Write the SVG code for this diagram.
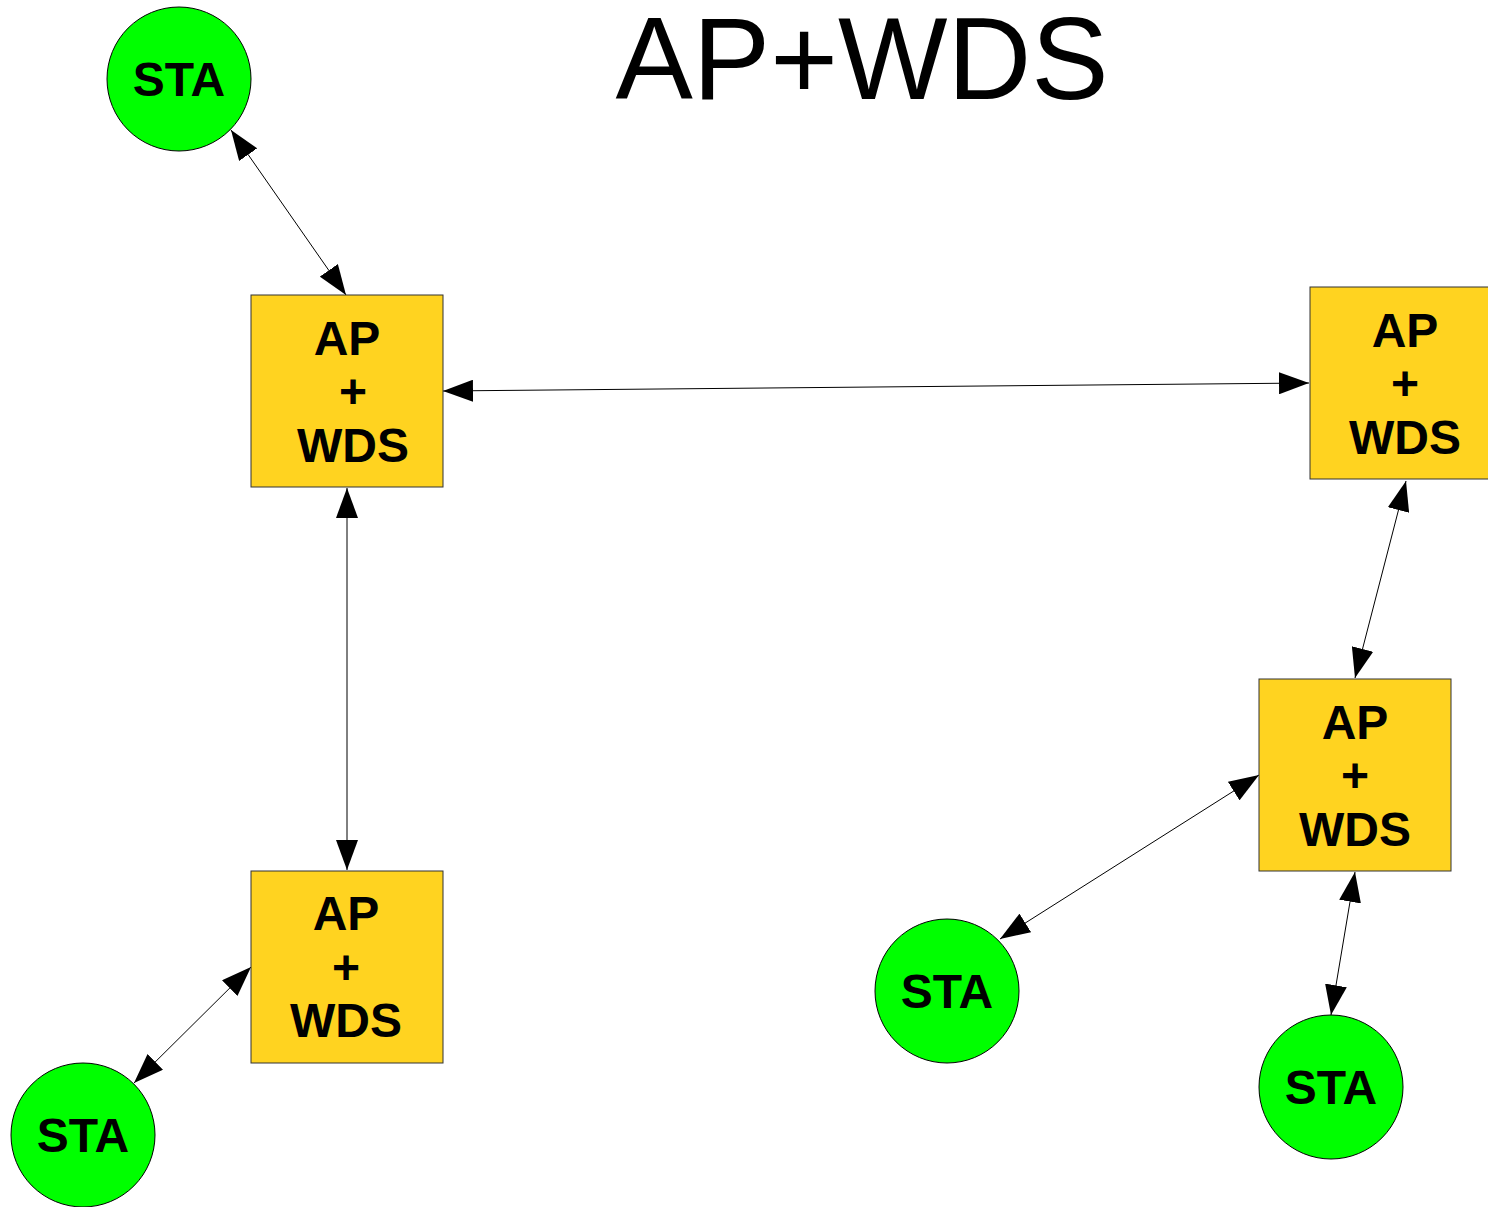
<svg xmlns="http://www.w3.org/2000/svg" width="1488" height="1207" viewBox="0 0 1488 1207">
  <style>
    .ap { fill: #ffd320; stroke: #333333; stroke-width: 1; }
    .sta { fill: #00ff00; stroke: #000000; stroke-width: 1; }
    .lbl { font-family: "Liberation Sans", Arial, sans-serif; font-weight: bold; font-size: 48px; fill: #000000; text-anchor: middle; }
    .title { font-family: "Liberation Sans", Arial, sans-serif; font-size: 116px; fill: #000000; text-anchor: middle; }
    .link { stroke: #000000; stroke-width: 1; fill: none; marker-start: url(#arrow); marker-end: url(#arrow); }
  </style>
  <defs>
    <marker id="arrow" viewBox="0 0 30 22" refX="30" refY="11" markerWidth="30" markerHeight="22" markerUnits="userSpaceOnUse" orient="auto-start-reverse">
      <path d="M0,0 L30,11 L0,22 Z" fill="#000000"/>
    </marker>
  </defs>

  <rect width="1488" height="1207" fill="#ffffff"/>

  <text class="title" x="862" y="99">AP+WDS</text>

  <!-- links -->
  <g id="connectors">
    <line class="link" x1="231" y1="130" x2="346" y2="295"/>
    <line class="link" x1="443" y1="391" x2="1309" y2="383"/>
    <line class="link" x1="347" y1="488" x2="347" y2="870"/>
    <line class="link" x1="1406" y1="481" x2="1355" y2="678"/>
    <line class="link" x1="1259" y1="775" x2="1000" y2="939"/>
    <line class="link" x1="1355" y1="872" x2="1331" y2="1015"/>
    <line class="link" x1="251" y1="967" x2="134" y2="1083"/>
  </g>

  <!-- access points -->
  <g id="ap1">
    <rect class="ap" x="251" y="295" width="192" height="192"/>
    <text class="lbl" x="347" y="355">AP</text>
    <text class="lbl" x="353" y="408">+</text>
    <text class="lbl" x="353" y="462">WDS</text>
  </g>
  <g id="ap2">
    <rect class="ap" x="1310" y="287" width="192" height="192"/>
    <text class="lbl" x="1405" y="347">AP</text>
    <text class="lbl" x="1405" y="400">+</text>
    <text class="lbl" x="1405" y="454">WDS</text>
  </g>
  <g id="ap3">
    <rect class="ap" x="251" y="871" width="192" height="192"/>
    <text class="lbl" x="346" y="930">AP</text>
    <text class="lbl" x="346" y="984">+</text>
    <text class="lbl" x="346" y="1037">WDS</text>
  </g>
  <g id="ap4">
    <rect class="ap" x="1259" y="679" width="192" height="192"/>
    <text class="lbl" x="1355" y="739">AP</text>
    <text class="lbl" x="1355" y="792">+</text>
    <text class="lbl" x="1355" y="846">WDS</text>
  </g>

  <!-- stations -->
  <g id="sta1">
    <circle class="sta" cx="179" cy="79" r="72"/>
    <text class="lbl" x="179" y="96">STA</text>
  </g>
  <g id="sta2">
    <circle class="sta" cx="83" cy="1135" r="72"/>
    <text class="lbl" x="83" y="1152">STA</text>
  </g>
  <g id="sta3">
    <circle class="sta" cx="947" cy="991" r="72"/>
    <text class="lbl" x="947" y="1008">STA</text>
  </g>
  <g id="sta4">
    <circle class="sta" cx="1331" cy="1087" r="72"/>
    <text class="lbl" x="1331" y="1104">STA</text>
  </g>
</svg>
